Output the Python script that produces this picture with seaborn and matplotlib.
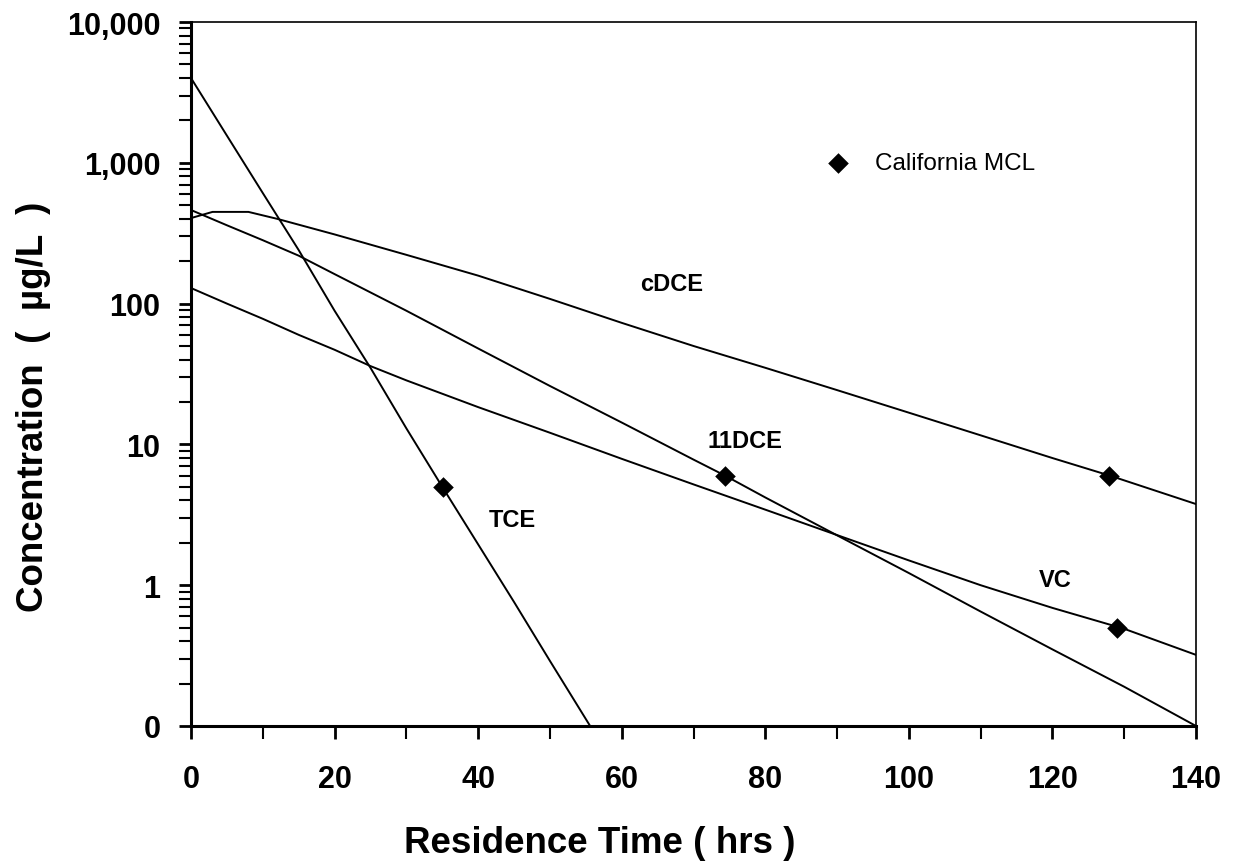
import numpy as np
import pandas as pd
import matplotlib
matplotlib.use("Agg")
import matplotlib.pyplot as plt
import matplotlib.ticker as mticker
import seaborn as sns

# ---- data ----
tce_x = [0, 5, 10, 15, 20, 25, 30, 35, 40, 45, 50, 55.6]
tce_y = [4000, 1560, 610, 240, 89, 35, 13, 5.0, 1.95, 0.76, 0.29, 0.1]

cdce_x = [0, 3, 8, 12, 20, 30, 40, 50, 60, 70, 80, 90, 100, 110, 120, 128, 140]
cdce_y = [405, 448, 448, 400, 310, 222, 158, 108, 73, 50, 35, 24.3, 16.8, 11.6, 8.0, 6.0, 3.77]

dce11_x = [0, 5, 10, 15, 20, 30, 40, 50, 60, 70, 74.4, 80, 90, 100, 110, 120, 130, 140]
dce11_y = [462, 360, 282, 219, 162, 89, 48, 26, 14.3, 7.8, 6.0, 4.2, 2.26, 1.22, 0.65, 0.35, 0.19, 0.1]

vc_x = [0, 5, 10, 15, 20, 25, 30, 40, 50, 60, 70, 80, 90, 100, 110, 120, 130, 140]
vc_y = [129, 100, 78, 60, 47, 36, 28.5, 18.4, 12.1, 7.9, 5.2, 3.44, 2.27, 1.5, 1.0, 0.69, 0.49, 0.32]

mcl_x = [35.1, 74.4, 127.9, 129.0]
mcl_y = [5.0, 6.0, 6.0, 0.5]

legend_x = [90.1]
legend_y = [1000]

label_names = ["cDCE", "11DCE", "TCE", "VC"]
label_x = [67.0, 77.2, 44.7, 120.4]
label_y = [140, 10.6, 2.95, 1.1]

ytick_vals = [0.1, 1, 10, 100, 1000, 10000]
ytick_labels = ["0", "1", "10", "100", "1,000", "10,000"]
xtick_vals = [0, 20, 40, 60, 80, 100, 120, 140]

# ---- build frames ----
frames = []
for name, xs, ys in [("TCE", tce_x, tce_y), ("cDCE", cdce_x, cdce_y),
                     ("11DCE", dce11_x, dce11_y), ("VC", vc_x, vc_y)]:
    frames.append(pd.DataFrame({"t": xs, "c": ys, "compound": name}))
lines_df = pd.concat(frames, ignore_index=True)
mcl_df = pd.DataFrame({"t": mcl_x, "c": mcl_y})
leg_df = pd.DataFrame({"t": legend_x, "c": legend_y})

sns.set_theme(style="white")
plt.rcParams["font.family"] = ["Liberation Sans", "DejaVu Sans"]
plt.rcParams["text.color"] = "black"
plt.rcParams["axes.labelcolor"] = "black"
plt.rcParams["xtick.color"] = "black"
plt.rcParams["ytick.color"] = "black"

fig = plt.figure(figsize=(12.36, 8.62), dpi=100)
ax = fig.add_axes([191/1236, 1-727/862, (1196-191)/1236, (727-23)/862])

sns.lineplot(data=lines_df, x="t", y="c", units="compound", estimator=None,
             color="black", linewidth=1.4, ax=ax, legend=False, sort=False)
sns.scatterplot(data=mcl_df, x="t", y="c", marker="D", s=110, color="black",
                edgecolor="black", linewidth=0, ax=ax, zorder=5)
sns.scatterplot(data=leg_df, x="t", y="c", marker="D", s=110, color="black",
                edgecolor="black", linewidth=0, ax=ax, zorder=5)
ax.text(95.3, 1000, "California MCL", fontsize=17.5, va="center", ha="left",
        color="black")

for name, lx, ly in zip(label_names, label_x, label_y):
    ax.text(lx, ly, name, fontsize=17, fontweight="bold", ha="center",
            va="center", color="black")

ax.set_yscale("log")
ax.set_ylim(0.1, 10000)
ax.set_xlim(0, 140)
ax.set_yticks(ytick_vals)
ax.set_yticklabels(ytick_labels)
ax.yaxis.set_minor_locator(mticker.LogLocator(base=10, subs=np.arange(2, 10)))
ax.yaxis.set_minor_formatter(mticker.NullFormatter())
ax.set_xticks(xtick_vals)
ax.set_xticks([10, 30, 50, 70, 90, 110, 130], minor=True)

ax.tick_params(axis="both", which="major", direction="out", length=9, width=2,
               labelsize=22, color="black", labelcolor="black",
               left=True, bottom=True)
ax.tick_params(axis="both", which="minor", direction="out", length=9, width=1.5,
               color="black", left=True, bottom=True)
for lab in ax.get_xticklabels() + ax.get_yticklabels():
    lab.set_fontweight("bold")
ax.tick_params(axis="x", pad=18)
ax.tick_params(axis="y", pad=13)

for side in ["left", "bottom"]:
    ax.spines[side].set_linewidth(2.2)
    ax.spines[side].set_color("black")
for side in ["top", "right"]:
    ax.spines[side].set_linewidth(1.2)
    ax.spines[side].set_color("black")

ax.set_xlabel("Residence Time ( hrs )", fontsize=26.5, fontweight="bold")
ax.set_ylabel("Concentration  (  \u00b5g/L  )", fontsize=26.5, fontweight="bold")
ax.xaxis.set_label_coords(0.407, -0.14)
ax.yaxis.set_label_coords(-0.139, 0.455)
ax.grid(False)

fig.savefig("out.png", dpi=100, facecolor="white")
